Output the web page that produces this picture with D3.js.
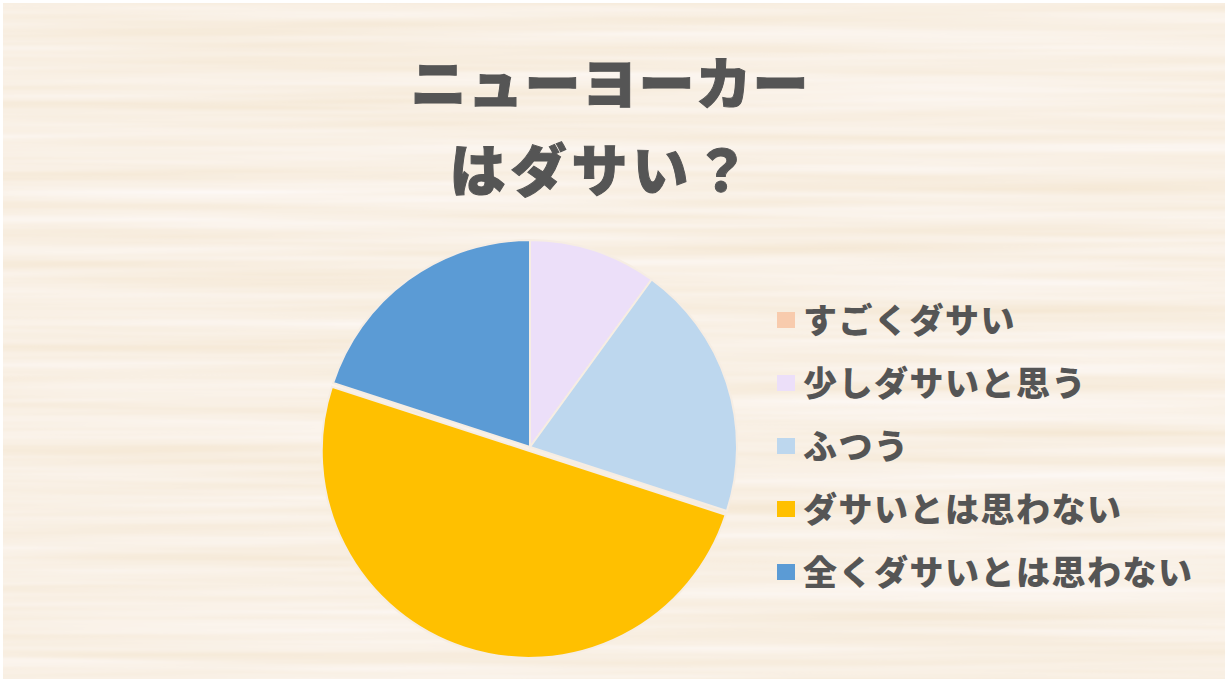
<!DOCTYPE html>
<html><head><meta charset="utf-8">
<script src="https://cdn.jsdelivr.net/npm/d3@7"></script>
<style>html,body{margin:0;padding:0;background:#fff}svg{display:block}</style>
</head><body>
<script>
const titleLines = ["ニューヨーカー", "はダサい？"];
const categories = ["すごくダサい", "少しダサいと思う", "ふつう", "ダサいとは思わない", "全くダサいとは思わない"];
const values = [0, 10, 20, 50, 20];
const colors = ["#f8cbad", "#ecdff9", "#bdd7ee", "#ffc000", "#5b9bd5"];
const explodeIndex = 3;

const W = 1228, H = 682;
const svg = d3.select("body").append("svg").attr("width", W).attr("height", H);
const defs = svg.append("defs");
const f = defs.append("filter").attr("id", "wood").attr("x", 0).attr("y", 0).attr("width", "100%").attr("height", "100%")
  .attr("color-interpolation-filters", "sRGB");
f.append("feTurbulence").attr("type", "fractalNoise").attr("baseFrequency", "0.0015 0.07").attr("numOctaves", 3).attr("seed", 7);
f.append("feColorMatrix").attr("type", "matrix").attr("values",
  "-0.04 0 0 0 0.995  -0.08 0 0 0 0.98  -0.16 0 0 0 0.975  0 0 0 0 1");

svg.append("rect").attr("width", W).attr("height", H).attr("fill", "#fff");
svg.append("rect").attr("x", 3).attr("y", 3).attr("width", W - 6).attr("height", H - 6).attr("filter", "url(#wood)");

const font = "'Noto Sans CJK JP', 'Noto Sans', sans-serif";
const ink = "#555555";

// title
svg.append("g").selectAll("text").data(titleLines).join("text")
  .attr("x", (d, i) => i === 0 ? 610 : 602).attr("y", (d, i) => 104 + i * 87)
  .attr("text-anchor", "middle")
  .attr("font-family", font).attr("font-weight", 900).attr("font-size", 56)
  .attr("letter-spacing", (d, i) => i === 0 ? 1 : 5)
  .attr("stroke", ink).attr("stroke-width", 1)
  .attr("fill", ink).text(d => d);

// pie
const cx = 530, cy = 447, r = 207;
const pie = d3.pie().sort(null).startAngle(0).endAngle(2 * Math.PI).value(d => d);
const arcs = pie(values);
const arc = d3.arc().innerRadius(0).outerRadius(r);
const g = svg.append("g").attr("transform", `translate(${cx},${cy})`);
g.selectAll("path").data(arcs).join("path")
  .attr("d", arc)
  .attr("transform", (d, i) => {
    if (i !== explodeIndex) return null;
    const a = (d.startAngle + d.endAngle) / 2;
    const off = 4;
    return `translate(${off * Math.sin(a)},${-off * Math.cos(a)})`;
  })
  .attr("fill", (d, i) => colors[i])
  .attr("stroke", "#f6ede3").attr("stroke-width", 2);

// legend
const lg = svg.append("g").attr("transform", "translate(777,320)");
const rows = lg.selectAll("g").data(categories).join("g")
  .attr("transform", (d, i) => `translate(0,${i * 63})`);
rows.append("rect").attr("x", 0).attr("y", -8).attr("width", 18).attr("height", 16)
  .attr("fill", (d, i) => colors[i]);
rows.append("text").attr("x", 26).attr("y", 13)
  .attr("font-family", font).attr("font-weight", 900).attr("font-size", 34)
  .attr("letter-spacing", 1.5)
  .attr("fill", ink).text(d => d);
</script>
</body></html>
